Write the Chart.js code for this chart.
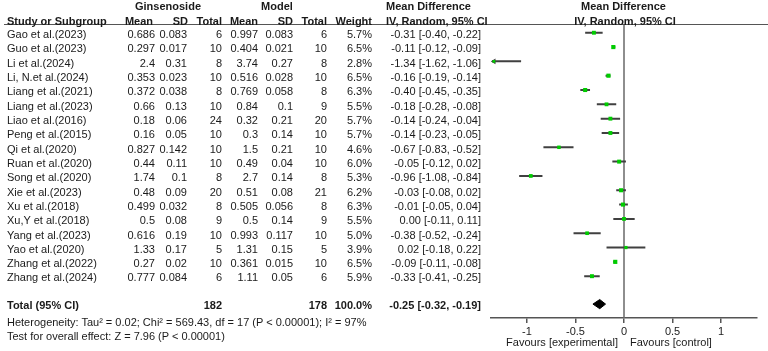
<!DOCTYPE html>
<html><head><meta charset="utf-8">
<script src="https://cdn.jsdelivr.net/npm/chart.js@4/dist/chart.umd.min.js"></script>
<style>
html,body{margin:0;padding:0;background:#fff;}
#wrap{position:relative;width:768px;height:351px;overflow:hidden;font-family:"Liberation Sans",Arial,sans-serif;font-size:11px;color:#1a1a1a;}
canvas{position:absolute;left:0;top:0;}
.t{position:absolute;white-space:nowrap;line-height:14px;height:14px;}
.b{font-weight:bold;}
#hline{position:absolute;left:4px;width:764px;top:24px;border-top:1px solid #555;}
</style></head><body>
<div id="wrap"><canvas id="c" width="768" height="351"></canvas><div id="hline"></div></div>
<script>
// ---------- data ----------
const studies = ["Gao et al.(2023)","Guo et al.(2023)","Li et al.(2024)","Li, N.et al.(2024)","Liang et al.(2021)","Liang et al.(2023)","Liao et al.(2016)","Peng et al.(2015)","Qi et al.(2020)","Ruan et al.(2020)","Song et al.(2020)","Xie et al.(2023)","Xu et al.(2018)","Xu,Y et al.(2018)","Yang et al.(2023)","Yao et al.(2020)","Zhang et al.(2022)","Zhang et al.(2024)"];
const gMean  = ["0.686","0.297","2.4","0.353","0.372","0.66","0.18","0.16","0.827","0.44","1.74","0.48","0.499","0.5","0.616","1.33","0.27","0.777"];
const gSD    = ["0.083","0.017","0.31","0.023","0.038","0.13","0.06","0.05","0.142","0.11","0.1","0.09","0.032","0.08","0.19","0.17","0.02","0.084"];
const gTotal = [6,10,8,10,8,10,24,10,10,10,8,20,8,9,10,5,10,6];
const mMean  = ["0.997","0.404","3.74","0.516","0.769","0.84","0.32","0.3","1.5","0.49","2.7","0.51","0.505","0.5","0.993","1.31","0.361","1.11"];
const mSD    = ["0.083","0.021","0.27","0.028","0.058","0.1","0.21","0.14","0.21","0.04","0.14","0.08","0.056","0.14","0.117","0.15","0.015","0.05"];
const mTotal = [6,10,8,10,8,9,20,10,10,10,8,21,8,9,10,5,10,6];
const weights = [5.7,6.5,2.8,6.5,6.3,5.5,5.7,5.7,4.6,6.0,5.3,6.2,6.3,5.5,5.0,3.9,6.5,5.9];
const md   = [-0.31,-0.11,-1.34,-0.16,-0.40,-0.18,-0.14,-0.14,-0.67,-0.05,-0.96,-0.03,-0.01,0.00,-0.38,0.02,-0.09,-0.33];
const ciLo = [-0.40,-0.12,-1.62,-0.19,-0.45,-0.28,-0.24,-0.23,-0.83,-0.12,-1.08,-0.08,-0.05,-0.11,-0.52,-0.18,-0.11,-0.41];
const ciHi = [-0.22,-0.09,-1.06,-0.14,-0.35,-0.08,-0.04,-0.05,-0.52,0.02,-0.84,0.02,0.04,0.11,-0.24,0.22,-0.08,-0.25];
const totalG = 182, totalM = 178, totalW = 100.0;
const pooled = {md:-0.25, lo:-0.32, hi:-0.19};
const xTicks = [-1,-0.5,0,0.5,1];
const heterogeneity = "Heterogeneity: Tau\u00b2 = 0.02; Chi\u00b2 = 569.43, df = 17 (P < 0.00001); I\u00b2 = 97%";
const overall = "Test for overall effect: Z = 7.96 (P < 0.00001)";

// ---------- layout constants ----------
const XMIN = -1.37, XMAX = 1.37;
const YMIN = -0.54, YMAX = 19.92;
const TOTAL_ROW = 18.95;
const GREEN = '#00cc00', LINE = '#404040';

const f2 = v => (v < 0 ? '-' : '') + Math.abs(v).toFixed(2);
const ciText = (m,l,h) => f2(m) + ' [' + f2(l) + ', ' + f2(h) + ']';

// CI segments
const ciData = [];
const arrowData = [];
studies.forEach((s,i) => {
  const lo = Math.max(ciLo[i], XMIN + 0.01);
  if (ciLo[i] < XMIN) arrowData.push({x: XMIN + 0.03, y: i});
  ciData.push({x: lo, y: i}, {x: Math.min(ciHi[i], XMAX), y: i}, {x: ciHi[i], y: null});
});
const pointData = studies.map((s,i) => ({x: md[i], y: i}));
const pointSizes = weights.map(w => Math.sqrt(w) * 1.15);
const dh = 0.32;
const diamond = [
  {x: pooled.lo, y: TOTAL_ROW}, {x: pooled.md, y: TOTAL_ROW - dh},
  {x: pooled.hi, y: TOTAL_ROW}, {x: pooled.md, y: TOTAL_ROW + dh}, {x: pooled.lo, y: TOTAL_ROW}
];

const chart = new Chart(document.getElementById('c'), {
  type: 'scatter',
  data: {datasets: [
    {type:'line', order:4, data:[{x:0,y:YMIN},{x:0,y:YMAX}], borderColor:'#6a6a6a', borderWidth:1.5, pointRadius:0, showLine:true},
    {type:'line', order:3, data: ciData, borderColor: LINE, borderWidth: 2, pointRadius: 0, showLine: true, spanGaps: false},
    {order:2, data: arrowData, pointStyle:'triangle', rotation:-90, pointRadius:3.2, backgroundColor: LINE, borderColor: LINE, borderWidth:0},
    {order:1, data: pointData, pointStyle:'rect', pointRadius: pointSizes, backgroundColor: GREEN, borderWidth:0},
    {type:'line', order:0, data: diamond, borderColor:'#000', backgroundColor:'#000', borderWidth:1, pointRadius:0, showLine:true, fill:'shape', tension:0}
  ]},
  options: {
    responsive:false, animation:false, devicePixelRatio:1,
    layout:{padding:{left:491, right:11, top:25, bottom:0}},
    plugins:{legend:{display:false}, tooltip:{enabled:false}},
    scales:{
      x:{type:'linear', min:XMIN, max:XMAX,
         afterBuildTicks: s => { s.ticks = xTicks.map(v => ({value:v})); },
         afterFit: s => { s.height = 33; },
         ticks:{color:'#222', font:{family:'"Liberation Sans", Arial, sans-serif', size:11}, padding:2, maxRotation:0,
                callback: v => String(v)},
         grid:{display:true, drawOnChartArea:false, drawTicks:true, tickLength:5, color:'#555', lineWidth:1.5},
         border:{display:true, color:'#555', width:1.5}},
      y:{type:'linear', reverse:true, min:YMIN, max:YMAX, display:false}
    }
  }
});

// ---------- table text ----------
const wrap = document.getElementById('wrap');
function put(text, x, yc, align, bold){
  const d = document.createElement('div');
  d.className = 't' + (bold ? ' b' : '');
  d.textContent = text;
  d.style.top = (yc - 7) + 'px';
  if (align === 'r') { d.style.left = (x - 300) + 'px'; d.style.width = '300px'; d.style.textAlign = 'right'; }
  else if (align === 'c') { d.style.left = (x - 150) + 'px'; d.style.width = '300px'; d.style.textAlign = 'center'; }
  else { d.style.left = x + 'px'; }
  wrap.appendChild(d);
}
const ys = chart.scales.y;
const rowY = i => ys.getPixelForValue(i) + 1.3;
const COLS = {study:7, gMean:155, gSD:187, gTotal:222, mMean:258, mSD:293, mTotal:327, weight:372, ci:481};

// headers
put('Ginsenoside', 168, 6, 'c', true);
put('Model', 277, 6, 'c', true);
put('Mean Difference', 386, 6, 'l', true);
put('Mean Difference', 623.5, 6, 'c', true);
put('Study or Subgroup', COLS.study, 20.5, 'l', true);
put('Mean', 153, 20.5, 'r', true);
put('SD', 188, 20.5, 'r', true);
put('Total', 222, 20.5, 'r', true);
put('Mean', 258, 20.5, 'r', true);
put('SD', 293, 20.5, 'r', true);
put('Total', 327, 20.5, 'r', true);
put('Weight', 372, 20.5, 'r', true);
put('IV, Random, 95% CI', 386, 20.5, 'l', true);
put('IV, Random, 95% CI', 625, 20.5, 'c', true);

studies.forEach((s,i) => {
  const y = rowY(i);
  put(s, COLS.study, y, 'l');
  put(gMean[i], COLS.gMean, y, 'r');
  put(gSD[i], COLS.gSD, y, 'r');
  put(String(gTotal[i]), COLS.gTotal, y, 'r');
  put(mMean[i], COLS.mMean, y, 'r');
  put(mSD[i], COLS.mSD, y, 'r');
  put(String(mTotal[i]), COLS.mTotal, y, 'r');
  put(weights[i].toFixed(1) + '%', COLS.weight, y, 'r');
  put(ciText(md[i], ciLo[i], ciHi[i]), COLS.ci, y, 'r');
});
const ty = rowY(TOTAL_ROW);
put('Total (95% CI)', COLS.study, ty, 'l', true);
put(String(totalG), COLS.gTotal, ty, 'r', true);
put(String(totalM), COLS.mTotal, ty, 'r', true);
put(totalW.toFixed(1) + '%', COLS.weight, ty, 'r', true);
put(ciText(pooled.md, pooled.lo, pooled.hi), COLS.ci, ty, 'r', true);
put(heterogeneity, COLS.study, 322, 'l');
put(overall, COLS.study, 336, 'l');

const x0 = chart.scales.x.getPixelForValue(0);
put('Favours [experimental]', x0 - 6, 342, 'r');
put('Favours [control]', x0 + 6, 342, 'l');
</script>
</body></html>
